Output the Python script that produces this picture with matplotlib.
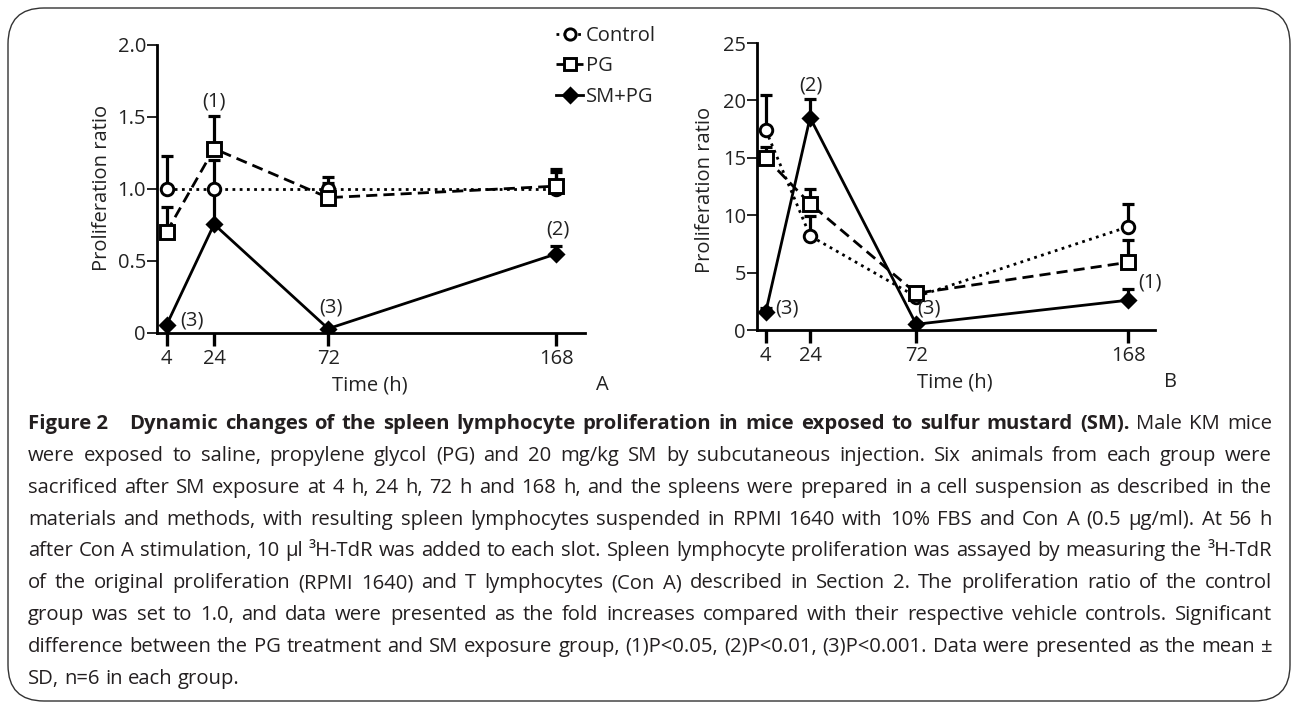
import matplotlib
matplotlib.use('Agg')
import matplotlib.pyplot as plt
from matplotlib.patches import FancyBboxPatch
from matplotlib.transforms import IdentityTransform
from matplotlib.lines import Line2D

# ---------------- data ----------------
time_h = [4, 24, 72, 168]
time_labels = ['4', '24', '72', '168']
series_names = ['Control', 'PG', 'SM+PG']

# Panel A
a_control = [1.00, 1.00, 1.00, 1.00]
a_control_sd = [0.23, 0.20, 0.08, 0.12]
a_pg = [0.70, 1.28, 0.94, 1.02]
a_pg_sd = [0.175, 0.23, 0.10, 0.12]
a_sm = [0.055, 0.755, 0.03, 0.55]
a_sm_sd = [0.0, 0.25, 0.0, 0.055]
a_yticks = [0, 0.5, 1.0, 1.5, 2.0]
a_ytick_labels = ['0', '0.5', '1.0', '1.5', '2.0']
a_sig = [(0, '(3)', 'SM+PG'), (1, '(1)', 'PG'), (2, '(3)', 'SM+PG'), (3, '(2)', 'SM+PG')]

# Panel B
b_control = [17.4, 8.2, 2.9, 9.0]
b_control_sd = [3.1, 1.7, 0.5, 2.0]
b_pg = [15.0, 11.0, 3.2, 5.9]
b_pg_sd = [0.9, 1.3, 0.4, 1.9]
b_sm = [1.6, 18.5, 0.5, 2.6]
b_sm_sd = [0.3, 1.6, 0.2, 1.0]
b_yticks = [0, 5, 10, 15, 20, 25]
b_ytick_labels = ['0', '5', '10', '15', '20', '25']
b_sig = [(0, '(3)', 'SM+PG'), (1, '(2)', 'SM+PG'), (2, '(3)', 'SM+PG'), (3, '(1)', 'SM+PG')]

caption_lines = [
    "Figure 2|Dynamic changes of the spleen lymphocyte proliferation in mice exposed to sulfur mustard (SM).|Male KM mice",
    "were exposed to saline, propylene glycol (PG) and 20 mg/kg SM by subcutaneous injection. Six animals from each group were",
    "sacrificed after SM exposure at 4 h, 24 h, 72 h and 168 h, and the spleens were prepared in a cell suspension as described in the",
    "materials and methods, with resulting spleen lymphocytes suspended in RPMI 1640 with 10% FBS and Con A (0.5 \u03bcg/ml). At 56 h",
    "after Con A stimulation, 10 \u03bcl \u00b3H-TdR was added to each slot. Spleen lymphocyte proliferation was assayed by measuring the \u00b3H-TdR",
    "of the original proliferation (RPMI 1640) and T lymphocytes (Con A) described in Section 2. The proliferation ratio of the control",
    "group was set to 1.0, and data were presented as the fold increases compared with their respective vehicle controls. Significant",
    "difference between the PG treatment and SM exposure group, (1)P<0.05, (2)P<0.01, (3)P<0.001. Data were presented as the mean \u00b1",
    "SD, n=6 in each group.",
]

# ---------------- style ----------------
W, H = 1292, 703
FONT = 'Open Sans'
TXT = '#222222'
FS = 14.5
plt.rcParams['font.family'] = [FONT, 'DejaVu Sans']

fig = plt.figure(figsize=(W / 100, H / 100), dpi=100)
renderer = fig.canvas.get_renderer()


def fx(px):
    return px / W


def fy(py):
    return 1 - py / H


styles = {
    'Control': dict(marker='o', ls=(0, (1.0, 1.6)), ms=9, mfc='white'),
    'PG': dict(marker='s', ls=(0, (4.0, 2.2)), ms=9.5, mfc='white'),
    'SM+PG': dict(marker='D', ls='-', ms=7.5, mfc='black'),
}


def draw_panel(rect, vals, sds, yticks, ylabels, ymax, sig, sig_offsets):
    ax = fig.add_axes(rect)
    for name, v, s in zip(series_names, vals, sds):
        st = styles[name]
        ax.errorbar(time_h, v, yerr=[[0] * len(s), s], fmt='none', ecolor='black',
                    elinewidth=2.3, capsize=4.5, capthick=2.3, zorder=3)
        ax.plot(time_h, v, color='black', lw=2.0, ls=st['ls'], zorder=2)
        ax.plot(time_h, v, ls='none', marker=st['marker'], ms=st['ms'], mfc=st['mfc'],
                mec='black', mew=2.1, zorder=4)
    ax.set_xlim(0, 180)
    ax.set_ylim(0, ymax)
    ax.set_xticks(time_h)
    ax.set_xticklabels(time_labels)
    ax.set_yticks(yticks)
    ax.set_yticklabels(ylabels)
    for sp in ['top', 'right']:
        ax.spines[sp].set_visible(False)
    for sp in ['left', 'bottom']:
        ax.spines[sp].set_linewidth(2.0)
    ax.tick_params(axis='x', direction='out', length=9.5, width=2.4, pad=2,
                   labelsize=FS, labelcolor=TXT)
    ax.tick_params(axis='y', direction='out', length=7, width=1.2, pad=1,
                   labelsize=FS, labelcolor=TXT)
    ax.patch.set_alpha(0)
    lookup = dict(zip(series_names, zip(vals, sds)))
    for (i, lab, ser), (dx, dy) in zip(sig, sig_offsets):
        v, s = lookup[ser]
        ax.annotate(lab, xy=(time_h[i], v[i] + s[i]), xytext=(dx, dy),
                    textcoords='offset pixels', ha='center', va='center',
                    fontsize=FS, color=TXT, zorder=5)
    return ax


rectA = [fx(157), fy(333), (585 - 157) / W, (333 - 45) / H]
rectB = [fx(757), fy(330), (1155 - 757) / W, (330 - 43) / H]

axA = draw_panel(rectA, [a_control, a_pg, a_sm], [a_control_sd, a_pg_sd, a_sm_sd],
                 a_yticks, a_ytick_labels, 2.0, a_sig,
                 [(25, 5), (0, 14), (3, 21), (1, 16)])
axB = draw_panel(rectB, [b_control, b_pg, b_sm], [b_control_sd, b_pg_sd, b_sm_sd],
                 b_yticks, b_ytick_labels, 25, b_sig,
                 [(21, 0), (1, 14), (13, 13), (22, 6)])

# axis labels
fig.text(fx(102), fy(188), 'Proliferation ratio', rotation=90, ha='center', va='center',
         fontsize=FS, color=TXT)
fig.text(fx(705), fy(190), 'Proliferation ratio', rotation=90, ha='center', va='center',
         fontsize=FS, color=TXT)
fig.text(fx(370), fy(385), 'Time (h)', ha='center', va='center', fontsize=FS, color=TXT)
fig.text(fx(955), fy(382), 'Time (h)', ha='center', va='center', fontsize=FS, color=TXT)
fig.text(fx(602), fy(385), 'A', ha='center', va='center', fontsize=FS, color=TXT)
fig.text(fx(1170), fy(382), 'B', ha='center', va='center', fontsize=FS, color=TXT)

# legend
handles = []
for name in series_names:
    st = styles[name]
    handles.append(Line2D([0], [0], color='black', lw=2.0, ls=st['ls'], marker=st['marker'],
                          ms=st['ms'] * 0.9, mfc=st['mfc'], mec='black', mew=2.1))
fig.legend(handles, series_names, loc='upper left', bbox_to_anchor=(fx(556), fy(26)),
           frameon=False, fontsize=FS, handlelength=1.35, handletextpad=0.15,
           labelspacing=0.52, borderpad=0, borderaxespad=0, labelcolor=TXT)

# caption (justified)
CAP_COLOR = '#231f20'
LEFT, RIGHT = 28, 1272
BASE0, PITCH = 429, 31.85


def measure(s, bold, size):
    t = fig.text(0, 0, s, fontsize=size, fontweight='bold' if bold else 'normal')
    w = t.get_window_extent(renderer).width
    t.remove()
    return w


def tokenize(line):
    tokens = []
    if '|' in line:
        parts = line.split('|')
        tokens.append((parts[0], True, 14))
        for wd in parts[1].split(' '):
            tokens.append((wd, True, 0))
        for wd in parts[2].split(' '):
            tokens.append((wd, False, 0))
    else:
        for wd in line.split(' '):
            tokens.append((wd, False, 0))
    return tokens


# fit caption size so the tightest line fits with a normal word space
BASE_FS = 12.0
sp0 = measure('x x', False, BASE_FS) - measure('xx', False, BASE_FS)
nat = []
for line in caption_lines[:-1]:
    tk = tokenize(line)
    nat.append(sum(measure(t, b, BASE_FS) for t, b, _ in tk) + sp0 * (len(tk) - 1))
CAP_FS = BASE_FS * (RIGHT - LEFT) / max(nat) * 0.995
space_w = measure('x x', False, CAP_FS) - measure('xx', False, CAP_FS)

for li, line in enumerate(caption_lines):
    tokens = tokenize(line)
    widths = [measure(t, b, CAP_FS) for t, b, _ in tokens]
    extras = sum(e for _, _, e in tokens)
    last = li == len(caption_lines) - 1
    if last:
        gap = space_w
    else:
        gap = (RIGHT - LEFT - sum(widths) - extras) / (len(tokens) - 1)
    x = LEFT
    ypx = BASE0 + PITCH * li
    for (t, b, e), w in zip(tokens, widths):
        fig.text(fx(x), fy(ypx), t, fontsize=CAP_FS, fontweight='bold' if b else 'normal',
                 color=CAP_COLOR, ha='left', va='baseline')
        x += w + gap + e

# rounded border
border = FancyBboxPatch((8, 2), 1282, 693, boxstyle='round,pad=0,rounding_size=36',
                        transform=IdentityTransform(), fill=False, ec='#333333', lw=1.0)
fig.patches.append(border)

fig.savefig('out.png', dpi=100)
